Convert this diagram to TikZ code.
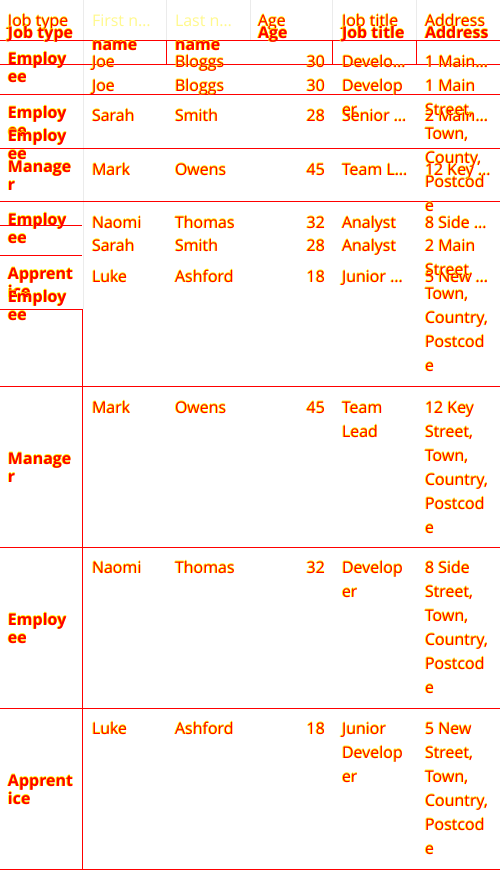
\documentclass[tikz,border=0pt]{standalone}
\usepackage{fontspec}
\setmainfont{Open Sans}
\newcounter{tc}
\tikzset{
  txt/.style={anchor=base west,inner sep=0pt,outer sep=0pt,text=red,font=\fontsize{16}{24}\selectfont},
  bld/.style={font=\fontsize{16}{24}\selectfont\bfseries},
  num/.style={anchor=base east},
  ylw/.style={text=yellow},
  faint/.style={text=yellow!45!white},
  rl/.style={draw=red,line width=1pt},
  gl/.style={draw=black!8,line width=1pt}
}
\newcommand\tx[4][]{\stepcounter{tc}%
  \node[txt,#1,ylw] (s\thetc) at ({#2-1},{#3}) {#4};%
  \node[txt,#1,ylw] (u\thetc) at ({#2},{#3-0.8}) {#4};%
  \node[txt,#1] (t\thetc) at ({#2},{#3}) {#4};}
\newcommand\fx[3]{\stepcounter{tc}%
  \node[txt,faint] (t\thetc) at ({#1},{#2}) {#3};}
\newcommand\lines[3]{\foreach \s [count=\i from 0] in {#3} {\tx{#1}{#2+24*\i}{\s}}}
\begin{document}
\begin{tikzpicture}[x=1pt,y=-1pt]
\useasboundingbox (0,0) rectangle (500,870);
\fill[white] (0,0) rectangle (500,870);
% faint grid
\coordinate (g1a) at (83,0); \coordinate (g1b) at (83,309);
\draw[gl] (g1a) -- (g1b);
\foreach \x in {166,250,332,416} {\coordinate (ga) at (\x,0); \coordinate (gb) at (\x,40); \draw[gl] (ga) -- (gb);}
% red horizontal lines
\foreach \y in {40,64,94,148,201,386.5,547,708,869} {\coordinate (la) at (0,\y); \coordinate (lb) at (500,\y); \draw[rl] (la) -- (lb);}
\foreach \y in {225.5,255,309} {\coordinate (la) at (0,\y); \coordinate (lb) at (82,\y); \draw[rl] (la) -- (lb);}
\foreach \x in {166,332,416} {\coordinate (va) at (\x,40); \coordinate (vb) at (\x,64); \draw[rl] (va) -- (vb);}
\coordinate (v1) at (82,309); \coordinate (v2) at (82,869);
\draw[rl] (v1) -- (v2);
% header B
\tx{8}{26}{Job type}
\fx{92}{26}{First n…}
\fx{175}{26}{Last n…}
\tx{258}{26}{Age}
\tx{342}{26}{Job title}
\tx{425}{26}{Address}
% header A
\tx[bld]{8}{38}{Job type}
\tx[bld]{258}{38}{Age}
\tx[bld]{342}{38}{Job title}
\tx[bld]{425}{38}{Address}
\tx[bld]{92}{50}{name}
\tx[bld]{175}{50}{name}
% table B rows
\tx[bld]{8}{64}{Employ}\tx[bld]{8}{82}{ee}
\tx{92}{67}{Joe}\tx{175}{67}{Bloggs}\tx[num]{325}{67}{30}\tx{342}{67}{Develo…}\tx{425}{67}{1 Main…}
\tx[bld]{8}{118}{Employ}\tx[bld]{8}{136}{ee}
\tx{92}{121}{Sarah}\tx{175}{121}{Smith}\tx[num]{325}{121}{28}\tx{342}{121}{Senior …}\tx{425}{121}{2 Main…}
\tx[bld]{8}{172}{Manage}\tx[bld]{8}{190}{r}
\tx{92}{175}{Mark}\tx{175}{175}{Owens}\tx[num]{325}{175}{45}\tx{342}{175}{Team L…}\tx{425}{175}{12 Key …}
\tx[bld]{8}{225}{Employ}\tx[bld]{8}{243}{ee}
\tx{92}{228}{Naomi}\tx{175}{228}{Thomas}\tx[num]{325}{228}{32}\tx{342}{228}{Analyst}\tx{425}{228}{8 Side …}
\tx[bld]{8}{279}{Apprent}\tx[bld]{8}{297}{ice}
\tx{92}{282}{Luke}\tx{175}{282}{Ashford}\tx[num]{325}{282}{18}\tx{342}{282}{Junior …}\tx{425}{282}{5 New …}
% table A rows
\tx[bld]{8}{141.5}{Employ}\tx[bld]{8}{159.5}{ee}
\tx{92}{91}{Joe}\tx{175}{91}{Bloggs}\tx[num]{325}{91}{30}
\lines{342}{91}{Develop,er}
\lines{425}{91}{1 Main,{Street,},{Town,},{County,},Postcod,e}
\tx[bld]{8}{302}{Employ}\tx[bld]{8}{320}{ee}
\tx{92}{251}{Sarah}\tx{175}{251}{Smith}\tx[num]{325}{251}{28}
\lines{342}{251}{Analyst}
\lines{425}{251}{2 Main,{Street,},{Town,},{Country,},Postcod,e}
\tx[bld]{8}{464}{Manage}\tx[bld]{8}{482}{r}
\tx{92}{413}{Mark}\tx{175}{413}{Owens}\tx[num]{325}{413}{45}
\lines{342}{413}{Team,Lead}
\lines{425}{413}{12 Key,{Street,},{Town,},{Country,},Postcod,e}
\tx[bld]{8}{625}{Employ}\tx[bld]{8}{643}{ee}
\tx{92}{573.5}{Naomi}\tx{175}{573.5}{Thomas}\tx[num]{325}{573.5}{32}
\lines{342}{573.5}{Develop,er}
\lines{425}{573.5}{8 Side,{Street,},{Town,},{Country,},Postcod,e}
\tx[bld]{8}{786}{Apprent}\tx[bld]{8}{804}{ice}
\tx{92}{734.5}{Luke}\tx{175}{734.5}{Ashford}\tx[num]{325}{734.5}{18}
\lines{342}{734.5}{Junior,Develop,er}
\lines{425}{734.5}{5 New,{Street,},{Town,},{Country,},Postcod,e}
\end{tikzpicture}
\end{document}
